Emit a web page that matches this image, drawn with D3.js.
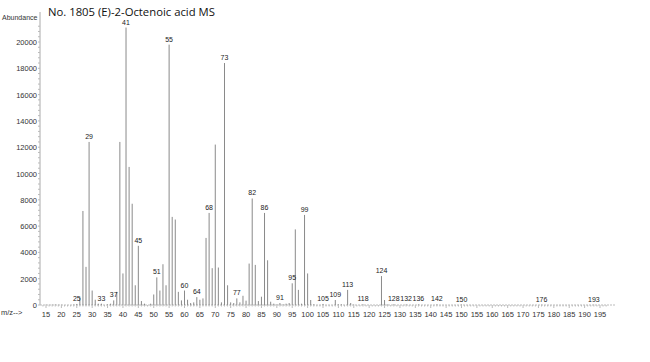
<!DOCTYPE html>
<html><head><meta charset="utf-8">
<script src="https://cdn.jsdelivr.net/npm/d3@7"></script>
<style>
html,body{margin:0;padding:0;background:#fff;}
svg{display:block;}
</style></head>
<body>
<svg id="c" width="650" height="362"></svg>
<script>
const title = "No. 1805 (E)-2-Octenoic acid MS";
const mz = [15,16,17,18,19,20,24,25,26,27,28,29,30,31,32,33,35,36,37,38,39,40,41,42,43,44,45,46,47,49,50,51,52,53,54,55,56,57,58,59,60,61,62,63,64,65,66,67,68,69,70,71,72,73,74,75,76,77,78,79,80,81,82,83,84,85,86,87,88,89,90,91,92,93,94,95,96,97,98,99,100,101,102,105,109,110,111,113,114,115,118,124,125,126,128,132,136,142,150,176,193];
const abundance = [30,20,30,40,20,20,30,80,600,7150,2900,12400,1100,400,100,100,50,100,350,1000,12400,2400,21100,10500,7700,1500,4500,300,100,100,800,2100,1100,3100,1500,19800,6700,6500,1000,350,1100,400,150,200,600,400,500,5100,7000,2800,12200,2850,200,18400,1500,200,150,500,200,700,330,3150,8100,3050,300,630,7000,3400,250,100,50,150,50,100,150,1650,5750,1150,100,6850,2400,380,50,80,380,50,50,1150,150,30,50,2200,380,40,50,40,40,40,30,20,20];
const labeledPeaks = [25,29,33,37,41,45,51,55,60,64,68,73,77,82,86,91,95,99,105,109,113,118,124,128,132,136,142,150,176,193];
const xTicks = d3.range(15, 200, 5);
const yTicks = [0,2000,4000,6000,8000,10000,12000,14000,16000,18000,20000];

const svg = d3.select("#c");
const x = d3.scaleLinear().domain([15, 195]).range([46, 600]);
const y = d3.scaleLinear().domain([0, 20000]).range([305, 42]);
const font = "'Liberation Sans', Arial, sans-serif";

// title
svg.append("text").attr("x", 48).attr("y", 16).attr("font-family", "'Open Sans', 'Noto Sans', sans-serif")
  .attr("font-size", 11.3).attr("fill", "#111").text(title);
svg.append("text").attr("x", 2).attr("y", 20).attr("font-family", font).attr("font-size", 7)
  .attr("fill", "#333").text("Abundance");
svg.append("text").attr("x", 1).attr("y", 315).attr("font-family", font).attr("font-size", 7.5)
  .attr("fill", "#333").text("m/z-->");

// y axis
const yAxis = svg.append("g").attr("transform", "translate(40,0)");
yAxis.append("line").attr("x1", 0).attr("x2", 0).attr("y1", 12).attr("y2", 305).attr("stroke", "#aaa");
yAxis.selectAll("line.mt").data(d3.range(0, 21600, 400)).join("line").attr("class", "mt")
  .attr("x1", -2).attr("x2", 0).attr("y1", d => y(d)).attr("y2", d => y(d)).attr("stroke", "#bbb");
yAxis.selectAll("text").data(yTicks).join("text")
  .attr("x", -3).attr("y", d => y(d) + 3).attr("text-anchor", "end")
  .attr("font-family", font).attr("font-size", 7.5).attr("fill", "#333").text(d => d);

// x axis
const xAxis = svg.append("g").attr("transform", "translate(0,305)");
xAxis.append("line").attr("x1", 40).attr("x2", 615).attr("y1", 0).attr("y2", 0)
  .attr("stroke", "#bbb").attr("stroke-dasharray", "2,1");
xAxis.selectAll("line.mt").data(d3.range(14, 198, 1)).join("line").attr("class", "mt")
  .attr("x1", d => x(d)).attr("x2", d => x(d)).attr("y1", 0).attr("y2", d => d % 5 === 0 ? 3 : 1.5)
  .attr("stroke", "#bbb");
xAxis.selectAll("text").data(xTicks).join("text")
  .attr("x", d => x(d)).attr("y", 12).attr("text-anchor", "middle")
  .attr("font-family", font).attr("font-size", 7.5).attr("fill", "#333").text(d => d);

// peaks
const data = mz.map((m, i) => ({ m, v: abundance[i] }));
svg.append("g").selectAll("line").data(data).join("line")
  .attr("x1", d => x(d.m)).attr("x2", d => x(d.m))
  .attr("y1", y(0)).attr("y2", d => y(d.v))
  .attr("stroke", "#8a8a8a").attr("stroke-width", 1);

// peak labels
const lab = data.filter(d => labeledPeaks.includes(d.m));
svg.append("g").selectAll("text").data(lab).join("text")
  .attr("x", d => x(d.m)).attr("y", d => Math.min(y(d.v) - 3, 303)).attr("text-anchor", "middle")
  .attr("font-family", font).attr("font-size", 7).attr("fill", "#222").text(d => d.m);
</script>
</body></html>
